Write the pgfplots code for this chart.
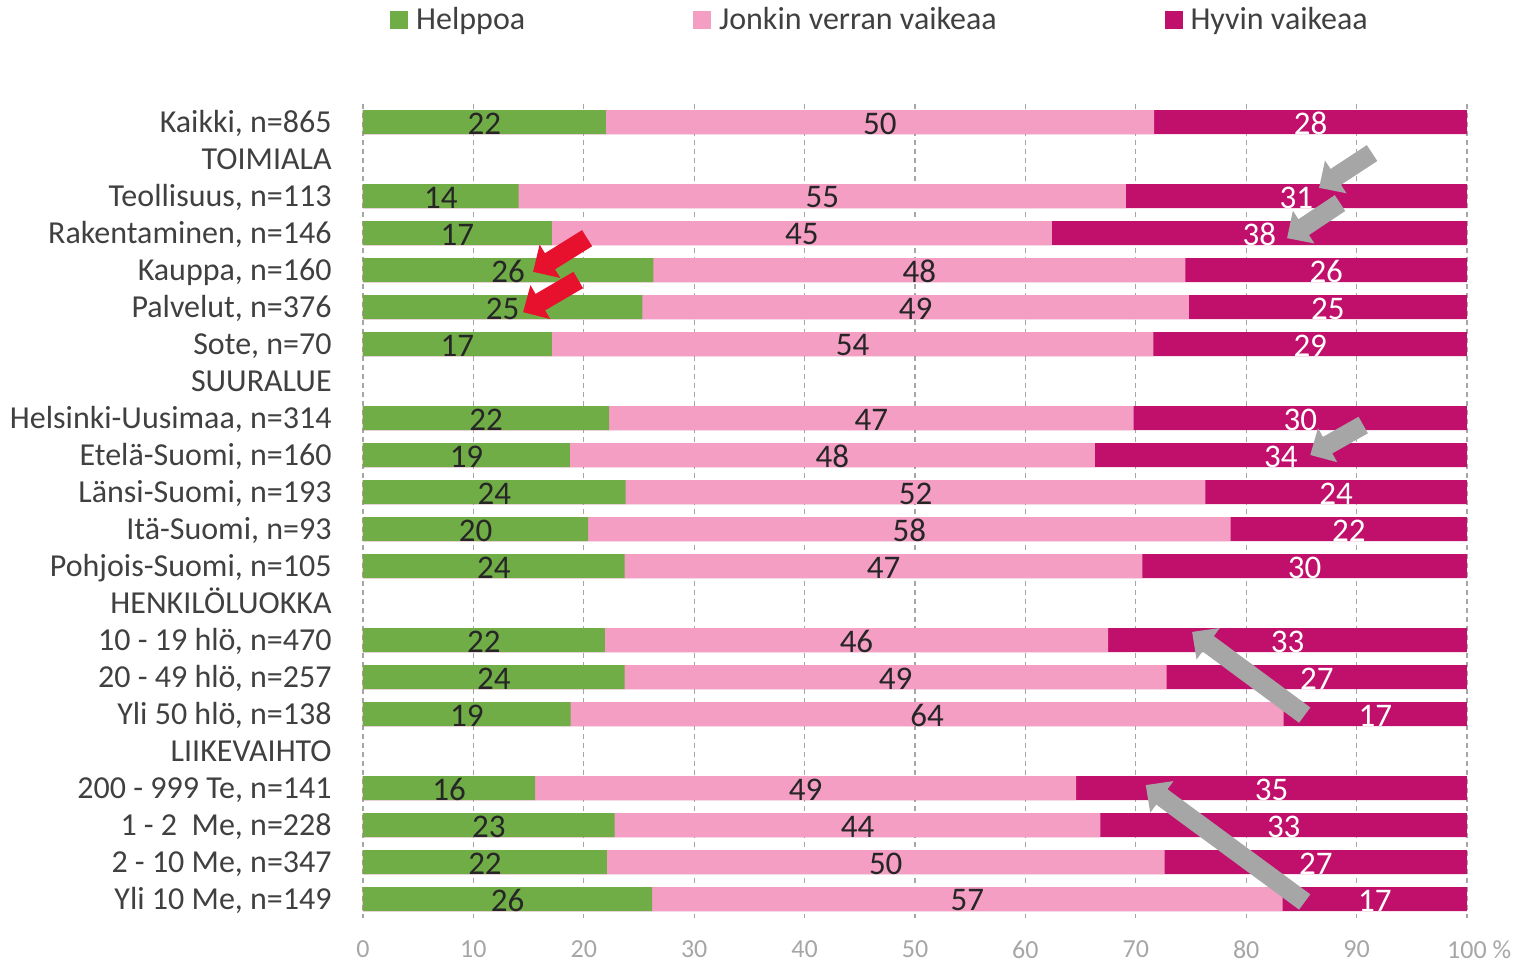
\documentclass[border=0pt]{standalone}
\usepackage{pgfplots}
\pgfplotsset{compat=1.18}
\usepackage{pgfplotstable}
\usepackage{fontspec}
\setmainfont{Carlito}
\usetikzlibrary{arrows.meta}
\definecolor{cgreen}{RGB}{112,173,71}
\definecolor{cpink}{RGB}{244,158,196}
\definecolor{cmag}{RGB}{192,16,108}
\definecolor{ctext}{RGB}{64,64,64}
\definecolor{cdark}{RGB}{38,38,38}
\definecolor{cgrid}{RGB}{166,166,166}
\definecolor{carrow}{RGB}{166,166,166}
\definecolor{cred}{RGB}{232,17,45}
\pgfplotstableread{
y a b c la lb lc
0 22.0 49.65 28.35 22 50 28
2 14.1 55.0 30.9 14 55 31
3 17.1 45.3 37.6 17 45 38
4 26.3 48.2 25.5 26 48 26
5 25.3 49.5 25.2 25 49 25
6 17.1 54.5 28.4 17 54 29
8 22.3 47.5 30.2 22 47 30
9 18.75 47.55 33.7 19 48 34
10 23.8 52.5 23.7 24 52 24
11 20.4 58.2 21.4 20 58 22
12 23.7 46.9 29.4 24 47 30
14 21.9 45.6 32.5 22 46 33
15 23.7 49.1 27.2 24 49 27
16 18.8 64.6 16.6 19 64 17
18 15.6 49.0 35.4 16 49 35
19 22.8 44.0 33.2 23 44 33
20 22.1 50.5 27.4 22 50 27
21 26.2 57.1 16.7 26 57 17
}\data
\begin{document}
\begin{tikzpicture}
\begin{axis}[name=ax, scale only axis, width=552pt, height=407pt,
  xmin=0, xmax=100, ymin=-0.5, ymax=21.5, y dir=reverse,
  bar width=12pt, bar shift=0pt,
  axis line style={draw=none}, major tick length=0pt,
  xmajorgrids, grid style={cgrid, line width=0.6pt, dash pattern=on 2.5pt off 2pt},
  xtick={0,10,...,100},
  xticklabels={0,10,20,30,40,50,60,70,80,90,{100\rlap{ \%}}},
  xticklabel style={font=\fontsize{13}{15}\selectfont, text=cgrid, inner sep=0pt, yshift=-11.5pt},
  ytick={0,...,21},
  yticklabels={{Kaikki, n=865},TOIMIALA,{Teollisuus, n=113},{Rakentaminen, n=146},{Kauppa, n=160},{Palvelut, n=376},{Sote, n=70},SUURALUE,{Helsinki-Uusimaa, n=314},{Etelä-Suomi, n=160},{Länsi-Suomi, n=193},{Itä-Suomi, n=93},{Pohjois-Suomi, n=105},HENKILÖLUOKKA,{10 - 19 hlö, n=470},{20 - 49 hlö, n=257},{Yli 50 hlö, n=138},LIIKEVAIHTO,{200 - 999 Te, n=141},{1 - 2\ \ Me, n=228},{2 - 10 Me, n=347},{Yli 10 Me, n=149}},
  yticklabel style={font=\fontsize{16}{19}\selectfont, text=ctext, inner sep=0pt, xshift=-15.5pt, anchor=base east, yshift=-5pt},
  /pgf/number format/assume math mode=true,
  legend columns=3,
  legend style={draw=none, fill=none, at={(0.0245,1)}, anchor=west, yshift=41.75pt,
    font=\fontsize{16}{19}\selectfont, text=ctext, inner sep=0pt, nodes={inner sep=0pt},
    /tikz/every even column/.append style={column sep=84pt},
    /tikz/every odd column/.append style={column sep=4pt}},
  clip=false,
]
\addlegendimage{legend image code/.code={\fill[cgreen] (0pt,-4.25pt) rectangle (8.5pt,4.25pt);}}
\addlegendentry{Helppoa}
\addlegendimage{legend image code/.code={\fill[cpink] (0pt,-4.25pt) rectangle (8.5pt,4.25pt);}}
\addlegendentry{Jonkin verran vaikeaa}
\addlegendimage{legend image code/.code={\fill[cmag] (0pt,-4.25pt) rectangle (8.5pt,4.25pt);}}
\addlegendentry{Hyvin vaikeaa}

\addplot[xbar, fill=cmag, draw=none, forget plot] table[x expr=\thisrow{a}+\thisrow{b}+\thisrow{c}, y=y] {\data};
\addplot[xbar, fill=cpink, draw=none, forget plot] table[x expr=\thisrow{a}+\thisrow{b}, y=y] {\data};
\addplot[xbar, fill=cgreen, draw=none, forget plot] table[x=a, y=y] {\data};

\addplot[draw=none, mark=none, forget plot, nodes near coords, point meta=explicit symbolic,
  nodes near coords style={anchor=center, font=\fontsize{16.5}{18}\selectfont, text=cdark, yshift=-0.75pt}]
  table[x expr=\thisrow{a}/2, y=y, meta=la] {\data};
\addplot[draw=none, mark=none, forget plot, nodes near coords, point meta=explicit symbolic,
  nodes near coords style={anchor=center, font=\fontsize{16.5}{18}\selectfont, text=cdark, yshift=-0.75pt}]
  table[x expr=\thisrow{a}+\thisrow{b}/2, y=y, meta=lb] {\data};
\addplot[draw=none, mark=none, forget plot, nodes near coords, point meta=explicit symbolic,
  nodes near coords style={anchor=center, font=\fontsize{16.5}{18}\selectfont, text=white, yshift=-0.75pt}]
  table[x expr=\thisrow{a}+\thisrow{b}+\thisrow{c}/2, y=y, meta=lc] {\data};

\tikzset{garr/.style={draw=#1, line width=9.5pt, -{Triangle[width=19pt,length=10pt]}}}
\draw[garr=carrow] (axis cs:91.4,0.84) -- (axis cs:86.6,1.78);
\draw[garr=carrow] (axis cs:88.5,2.19) -- (axis cs:83.7,3.14);
\draw[garr=cred] (axis cs:20.3,3.14) -- (axis cs:15.4,4.05);
\draw[garr=cred] (axis cs:19.5,4.27) -- (axis cs:14.5,5.14);
\draw[garr=carrow] (axis cs:90.6,8.19) -- (axis cs:85.8,9.0);
\draw[garr=carrow] (axis cs:85.3,16.03) -- (axis cs:75.1,13.78);
\draw[garr=carrow] (axis cs:85.3,21.08) -- (axis cs:70.9,17.92);
\end{axis}
\useasboundingbox ([shift={(-181.5pt,-23.25pt)}]ax.south west) rectangle ([shift={(25pt,51.75pt)}]ax.north east);
\end{tikzpicture}
\end{document}
